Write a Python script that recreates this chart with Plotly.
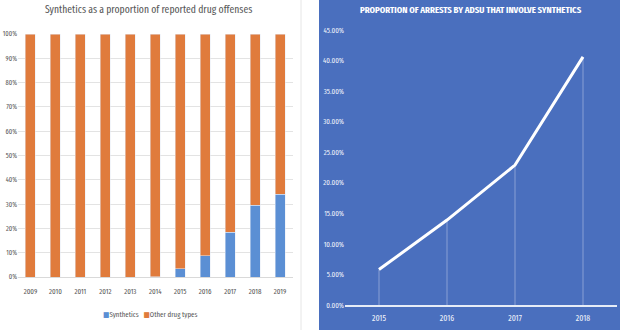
import plotly.graph_objects as go

# Left chart data
years_left = ["2009", "2010", "2011", "2012", "2013", "2014", "2015", "2016", "2017", "2018", "2019"]
synthetics_pct = [0.0, 0.0, 0.0, 0.0, 0.0, 0.2, 3.3, 8.7, 18.4, 29.5, 34.0]
other_pct = [100 - v for v in synthetics_pct]
left_yticks = list(range(0, 101, 10))
left_yticklabels = [f"{v}%" for v in left_yticks]

# Right chart data
years_right = ["2015", "2016", "2017", "2018"]
arrest_share = [0.058, 0.139, 0.229, 0.406]
right_yticks = [i * 0.05 for i in range(10)]
right_yticklabels = [f"{v*100:.2f}%" for v in right_yticks]

NARROW = "Fira Sans Extra Condensed, Fira Sans Condensed, DejaVu Sans Condensed, sans-serif"
BLUE_BG = "#4a6fbe"
C_SYN = "#5b8fd4"
C_OTH = "#e07b3c"

fig = go.Figure()

fig.add_trace(go.Bar(x=years_left, y=synthetics_pct, name="Synthetics",
                     marker_color=C_SYN, xaxis="x", yaxis="y", showlegend=False))
fig.add_trace(go.Bar(x=years_left, y=other_pct, name="Other drug types",
                     marker_color=C_OTH, xaxis="x", yaxis="y", showlegend=False))

fig.add_trace(go.Scatter(
    x=years_right, y=arrest_share, mode="lines", xaxis="x2", yaxis="y2",
    line=dict(color="white", width=3), showlegend=False,
    error_y=dict(type="data", symmetric=False, array=[0] * len(arrest_share),
                 arrayminus=arrest_share, color="rgba(255,255,255,0.35)",
                 thickness=1, width=0),
))

fig.update_layout(
    width=620, height=330,
    margin=dict(l=0, r=0, t=0, b=0),
    paper_bgcolor="white", plot_bgcolor="rgba(0,0,0,0)",
    barmode="stack", bargap=0.6,
    font=dict(family=NARROW, size=7, color="#595959"),
    xaxis=dict(domain=[18/620, 292.5/620], anchor="y", type="category",
               showgrid=False, showline=True, linecolor="#d9d9d9", linewidth=1,
               ticks="", tickfont=dict(size=7.5, color="#595959"),
               ticklabelstandoff=7, automargin=False, fixedrange=True),
    yaxis=dict(domain=[53/330, 296/330], anchor="x", range=[0, 100],
               tickvals=left_yticks, ticktext=left_yticklabels,
               showgrid=True, gridcolor="#e3e3e3", gridwidth=1,
               zeroline=False, showline=False, ticks="",
               tickfont=dict(size=7, color="#595959"), automargin=False),
    xaxis2=dict(domain=[345/620, 617/620], anchor="y2", type="category",
                range=[-0.5, 3.5], showgrid=False, showline=True,
                linecolor="#e6ecf7", linewidth=1.5, ticks="",
                tickfont=dict(size=8.5, color="#eef2fa"), ticklabelstandoff=4,
                automargin=False),
    yaxis2=dict(domain=[25/330, 300/330], anchor="x2", range=[0, 0.45],
                tickvals=right_yticks, ticktext=right_yticklabels,
                showgrid=False, zeroline=False, showline=False, ticks="",
                tickfont=dict(size=7.5, color="#eef2fa"), automargin=False),
    shapes=[
        dict(type="rect", xref="paper", yref="paper", x0=319/620, x1=1,
             y0=0, y1=1, fillcolor=BLUE_BG, line_width=0, layer="below"),
        dict(type="line", xref="paper", yref="paper", x0=301/620, x1=301/620,
             y0=0, y1=1, line=dict(color="#e6e6e6", width=1), layer="below"),
    ],
    annotations=[
        dict(text="Synthetics as a proportion of reported drug offenses",
             xref="paper", yref="paper", x=148/620, y=1 - 10/330,
             xanchor="center", yanchor="middle", showarrow=False,
             font=dict(family=NARROW, size=10.5, color="#595959")),
        dict(text="<b>PROPORTION OF ARRESTS BY ADSU THAT INVOLVE SYNTHETICS</b>",
             xref="paper", yref="paper", x=471/620, y=1 - 9.5/330,
             xanchor="center", yanchor="middle", showarrow=False,
             font=dict(family=NARROW, size=9.5, color="white")),
        dict(text=(f"<span style='color:{C_SYN}'>■</span>Synthetics   "
                   f"<span style='color:{C_OTH}'>■</span>Other drug types"),
             xref="paper", yref="paper", x=150/620, y=16/330,
             xanchor="center", yanchor="middle", showarrow=False,
             font=dict(family=NARROW, size=7.5, color="#595959")),
    ],
)

fig.write_html("out.html")
